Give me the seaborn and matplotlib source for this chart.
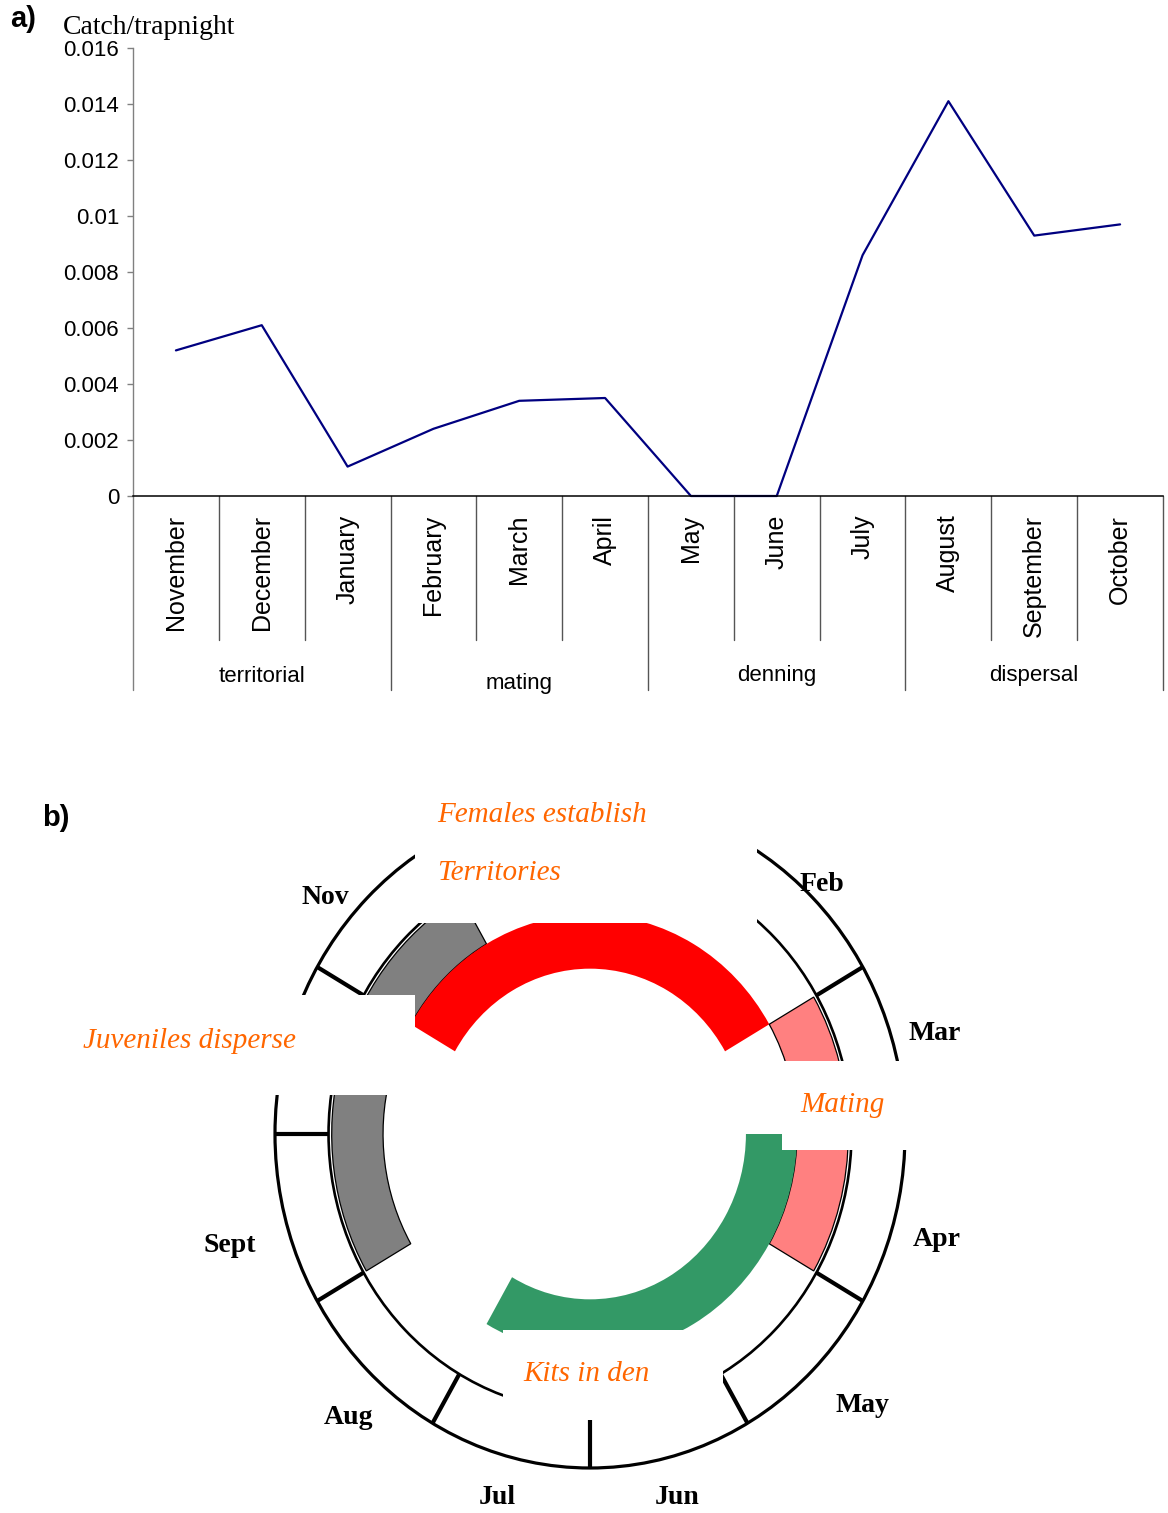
import matplotlib
matplotlib.use("Agg")
import matplotlib.pyplot as plt
from matplotlib.patches import Circle, Rectangle, Wedge
from matplotlib.transforms import blended_transform_factory
import numpy as np
import pandas as pd
import seaborn as sns

W, H = 1168, 1513

# panel a data
MONTHS = ["November", "December", "January", "February", "March", "April",
          "May", "June", "July", "August", "September", "October"]
CATCH = [0.0052, 0.0061, 0.00105, 0.0024, 0.0034, 0.0035,
         0.0, 0.0, 0.0086, 0.0141, 0.0093, 0.0097]
SEASONS = ["territorial", "mating", "denning", "dispersal"]
SEASON_SIZE = [3, 3, 3, 3]
Y_TICKS = [0, 0.002, 0.004, 0.006, 0.008, 0.01, 0.012, 0.014, 0.016]
Y_TICK_LABELS = ["0", "0.002", "0.004", "0.006", "0.008", "0.01", "0.012", "0.014", "0.016"]

# panel b data
RING_MONTHS = ["Jan", "Feb", "Mar", "Apr", "May", "Jun", "Jul", "Aug", "Sept", "Oct", "Nov", "Dec"]
PHASE_FIRST = ["Sept", "Nov", "Mar", "Apr"]
PHASE_LAST = ["Nov", "Feb", "Apr", "Jul"]
PHASE_RING = ["outer", "inner", "outer", "inner"]
PHASE_COLORS = ["#808080", "#ff0000", "#ff8080", "#339966"]
PHASE_EDGE = [True, False, True, False]

# layout (pixel positions of the original drawing)
CENTER = (590, 1134)
RX, RY = 315, 334
RING_RADII = {"outer": (0.657, 0.82), "inner": (0.495, 0.657)}
MONTH_LABEL_PX = {"Nov": (325, 897), "Feb": (822, 885), "Mar": (935, 1033),
                  "Apr": (937, 1240), "May": (862, 1405), "Jun": (677, 1497),
                  "Jul": (497, 1497), "Aug": (348, 1417), "Sept": (230, 1245)}
COVER_BOXES = [(415, 780, 757, 923), (70, 995, 415, 1095),
               (782, 1061, 915, 1150), (503, 1330, 723, 1420)]
NOTES = [("Females establish", 437, 815), ("Territories", 437, 873),
         ("Juveniles disperse", 83, 1041), ("Mating", 800, 1105),
         ("Kits in den", 523, 1374)]

sns.set_theme(style="white")
plt.rcParams["font.family"] = ["Liberation Sans", "DejaVu Sans"]
plt.rcParams["text.color"] = "black"
plt.rcParams["xtick.color"] = "black"
plt.rcParams["ytick.color"] = "black"
plt.rcParams["axes.labelcolor"] = "black"


def fig_xy(x, y):
    return x / W, 1 - y / H


def month_bounds(name):
    i = RING_MONTHS.index(name)
    return 90 - 30 * (i + 1), 90 - 30 * i


def plot_catch(fig):
    ax = fig.add_axes([133 / W, 1 - 496 / H, 1030 / W, 448 / H])
    df = pd.DataFrame({"month": MONTHS, "catch": CATCH})
    sns.lineplot(data=df, x="month", y="catch", sort=False, color="#000080", lw=1.6, ax=ax)
    for line in ax.lines:
        line.set_clip_on(False)
    ax.set_xlim(-0.5, len(MONTHS) - 0.5)
    ax.set_ylim(0, 0.016)
    ax.set_xticks(range(len(MONTHS)))
    ax.set_xticklabels(MONTHS, rotation=90, fontsize=18)
    ax.set_yticks(Y_TICKS)
    ax.set_yticklabels(Y_TICK_LABELS, fontsize=16)
    ax.tick_params(axis="x", length=0, pad=13.5)
    ax.tick_params(axis="y", length=4, width=1, color="#808080", labelcolor="black",
                   direction="out", pad=6, left=True)
    ax.set_xlabel("")
    ax.set_ylabel("")
    for side in ["top", "right"]:
        ax.spines[side].set_visible(False)
    ax.spines["left"].set_color("#808080")
    ax.spines["left"].set_linewidth(1.0)
    ax.spines["bottom"].set_color("black")
    ax.spines["bottom"].set_linewidth(1.1)

    trans = blended_transform_factory(ax.transData, ax.transAxes)
    edges = np.cumsum([0] + SEASON_SIZE)
    for b in range(len(MONTHS) + 1):
        low = -194 / 448 if b in edges else -144 / 448
        color = "#808080" if b == 0 else "#555555"
        ax.plot([b - 0.5, b - 0.5], [0, low], transform=trans, clip_on=False, color=color, lw=1.0)
    for i, name in enumerate(SEASONS):
        mid = (edges[i] + edges[i + 1] - 1) / 2
        dy = 8 if name == "mating" else 0
        ax.text(mid, -(676 + dy - 496) / 448, name, transform=trans, ha="center", va="center",
                fontsize=16)

    fig.text(*fig_xy(10, 19), "a)", fontsize=21, fontweight="bold", va="center", ha="left")
    fig.text(*fig_xy(63, 34), "Catch/trapnight", fontsize=20, va="baseline", ha="left",
             family=["Liberation Serif", "DejaVu Serif"])


def plot_cycle(fig):
    bottom = 740
    ax = fig.add_axes([0, 0, 1, (H - bottom) / H])
    cx, cy = CENTER
    ax.set_xlim(-cx / RX, (W - cx) / RX)
    ax.set_ylim((cy - H) / RY, (cy - bottom) / RY)
    ax.axis("off")

    for first, last, ring, color, edge in zip(PHASE_FIRST, PHASE_LAST, PHASE_RING, PHASE_COLORS, PHASE_EDGE):
        theta1 = month_bounds(last)[0]
        theta2 = month_bounds(first)[1]
        if theta2 <= theta1:
            theta2 += 360
        r_in, r_out = RING_RADII[ring]
        ax.add_patch(Wedge((0, 0), r_out, theta1, theta2, width=r_out - r_in,
                           facecolor=color, edgecolor="black" if edge else "none",
                           lw=0.9 if edge else 0, zorder=2))

    ax.add_patch(Circle((0, 0), 1.0, fill=False, ec="black", lw=2.3, zorder=3))
    ax.add_patch(Circle((0, 0), 0.83, fill=False, ec="black", lw=1.9, zorder=3))
    for b in range(len(RING_MONTHS)):
        ang = np.deg2rad(90 - 30 * b)
        ax.plot([0.83 * np.cos(ang), np.cos(ang)], [0.83 * np.sin(ang), np.sin(ang)],
                color="black", lw=3.0, solid_capstyle="butt", zorder=3)

    for x0, y0, x1, y1 in COVER_BOXES:
        fx0, fy1 = fig_xy(x0, y1)
        ax.add_patch(Rectangle((fx0, fy1), (x1 - x0) / W, (y1 - y0) / H, transform=fig.transFigure,
                               facecolor="white", edgecolor="none", zorder=6, clip_on=False))

    for name, (x, y) in MONTH_LABEL_PX.items():
        fig.text(*fig_xy(x, y), name, fontsize=20, fontweight="bold", ha="center", va="center",
                 color="black", family=["Liberation Serif", "DejaVu Serif"])
    for text, x, y in NOTES:
        fig.text(*fig_xy(x, y), text, fontsize=21, style="italic", color="#ff6600",
                 ha="left", va="center", family=["Liberation Serif", "DejaVu Serif"])

    fig.text(*fig_xy(42, 818), "b)", fontsize=21, fontweight="bold", va="center", ha="left")


def main():
    fig = plt.figure(figsize=(W / 100, H / 100), dpi=100)
    plot_catch(fig)
    plot_cycle(fig)
    fig.savefig("out.png", dpi=100, facecolor="white")
    plt.close(fig)


if __name__ == "__main__":
    main()
